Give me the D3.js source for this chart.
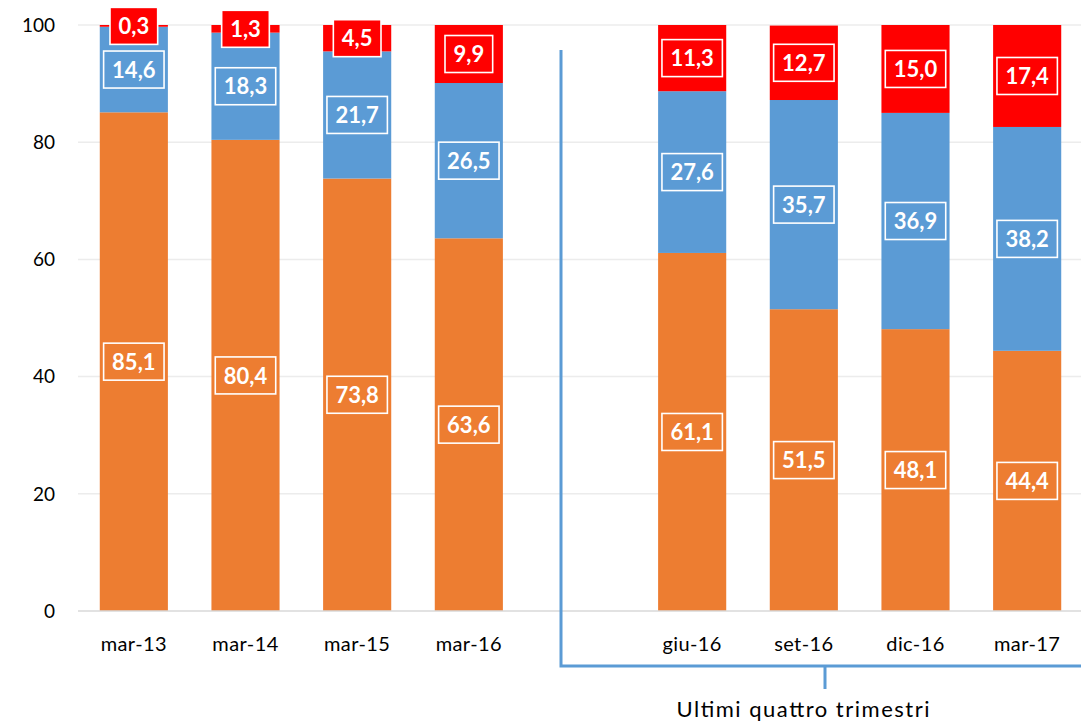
<!DOCTYPE html>
<html lang="it">
<head>
<meta charset="utf-8">
<title>Quote per trimestre</title>
<script src="https://d3js.org/d3.v7.min.js"></script>
<style>
  body { margin: 0; background: #fff; }
  svg { display: block; font-family: Lato, "Open Sans", sans-serif; }
</style>
</head>
<body>
<div id="chart"></div>
<script>
// categories (the blank one is the gap between the two groups)
const categories = ["mar-13", "mar-14", "mar-15", "mar-16", "", "giu-16", "set-16", "dic-16", "mar-17"];
const orangeValues = [85.1, 80.4, 73.8, 63.6, null, 61.1, 51.5, 48.1, 44.4];
const blueValues   = [14.6, 18.3, 21.7, 26.5, null, 27.6, 35.7, 36.9, 38.2];
const redValues    = [0.3, 1.3, 4.5, 9.9, null, 11.3, 12.7, 15.0, 17.4];
const yTicks = [0, 20, 40, 60, 80, 100];
const groupLabel = "Ultimi quattro trimestri";

const W = 1081, H = 724;
const svg = d3.select("#chart").append("svg")
  .attr("width", W).attr("height", H);

const x = d3.scaleBand()
  .domain(categories.map((c, i) => i))
  .range([78, 1083])
  .paddingInner(0.39)
  .paddingOuter(0.195);

const y = d3.scaleLinear().domain([0, 100]).range([611, 25]);

// gridlines
svg.append("g")
  .selectAll("line")
  .data(yTicks.filter(d => d > 0))
  .join("line")
  .attr("x1", 78).attr("x2", W)
  .attr("y1", d => y(d)).attr("y2", d => y(d))
  .attr("stroke", "#ececec").attr("stroke-width", 1.5);

// y axis labels
svg.append("g")
  .selectAll("text")
  .data(yTicks)
  .join("text")
  .attr("x", 55).attr("y", d => y(d))
  .attr("dy", "0.36em")
  .attr("text-anchor", "end")
  .attr("font-size", 19)
  .attr("fill", "#000")
  .text(d => d);

// stacked data
const rows = categories.map((c, i) => ({
  idx: i, orange: orangeValues[i], blue: blueValues[i], red: redValues[i]
})).filter(d => d.orange != null);

const keys = ["orange", "blue", "red"];
const colors = { orange: "#ED7D31", blue: "#5B9BD5", red: "#FF0000" };
const series = d3.stack().keys(keys)(rows);

const layers = svg.append("g")
  .selectAll("g")
  .data(series)
  .join("g")
  .attr("fill", s => colors[s.key]);

layers.selectAll("rect")
  .data(s => s)
  .join("rect")
  .attr("x", d => x(d.data.idx))
  .attr("width", x.bandwidth())
  .attr("y", d => y(d[1]))
  .attr("height", d => y(d[0]) - y(d[1]));

// baseline
svg.append("line")
  .attr("x1", 78).attr("x2", W)
  .attr("y1", y(0)).attr("y2", y(0))
  .attr("stroke", "#d9d9d9").attr("stroke-width", 1.5);

// x axis labels
svg.append("g")
  .selectAll("text")
  .data(categories.map((c, i) => ({ c, i })).filter(d => d.c))
  .join("text")
  .attr("x", d => x(d.i) + x.bandwidth() / 2)
  .attr("y", 651)
  .attr("text-anchor", "middle")
  .attr("font-size", 20)
  .attr("letter-spacing", 0.4)
  .attr("fill", "#000")
  .text(d => d.c);

// data labels with boxes
const fmt = v => v.toFixed(1).replace(".", ",");
series.forEach(s => {
  s.forEach(d => {
    const cx = x(d.data.idx) + x.bandwidth() / 2;
    const cy = y((d[0] + d[1]) / 2);
    const g = svg.append("g");
    const box = g.append("rect");
    const t = g.append("text")
      .attr("x", cx).attr("y", cy)
      .attr("dy", "0.37em")
      .attr("text-anchor", "middle")
      .attr("font-size", 22)
      .attr("font-weight", "bold")
      .attr("fill", "#fff")
      .text(fmt(d.data[s.key]));
    const w = t.node().getComputedTextLength() + 17;
    const h = 37;
    box.attr("x", cx - w / 2).attr("y", cy - h / 2)
      .attr("width", w).attr("height", h)
      .attr("fill", s.key === "red" ? colors.red : "none")
      .attr("stroke", "#fff").attr("stroke-width", 1.6);
  });
});

// bracket for the last four quarters
const bx0 = 561, by = 666, bTop = 50;
const tickX = 825;
svg.append("path")
  .attr("d", `M${bx0},${bTop} V${by} H${W + 5} M${tickX},${by} V689`)
  .attr("fill", "none")
  .attr("stroke", "#5B9BD5")
  .attr("stroke-width", 3);

svg.append("text")
  .attr("x", 803).attr("y", 717)
  .attr("text-anchor", "middle")
  .attr("font-size", 22)
  .attr("textLength", 253)
  .attr("lengthAdjust", "spacing")
  .attr("fill", "#000")
  .text(groupLabel);
</script>
</body>
</html>
